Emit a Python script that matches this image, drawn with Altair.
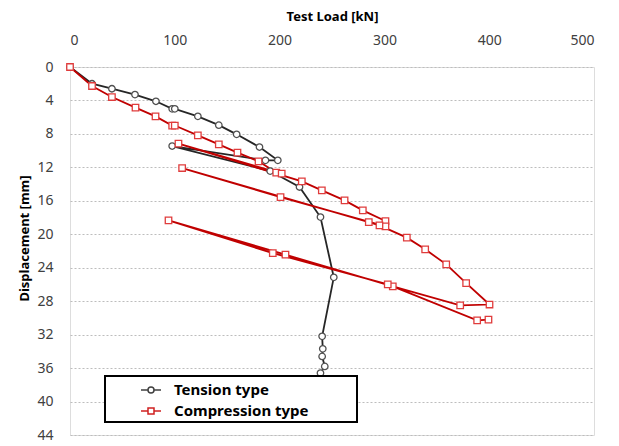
import altair as alt
import pandas as pd

series_names = ["Tension type", "Compression type"]

tension_load = [0, 21, 40, 62, 82, 97.5, 100, 122, 142, 159, 180.8, 198.3, 186.5, 97.5, 191, 219, 239, 251.7,
                240.6, 241.2, 240.6, 243.1, 239]
tension_disp = [0, 2.0, 2.6, 3.3, 4.1, 5.0, 5.0, 5.9, 6.95, 8.05, 9.57, 11.16, 11.16, 9.45, 12.44, 14.35, 17.94, 25.15,
                32.2, 33.7, 34.6, 35.8, 36.6]

compression_load = [0, 21, 40, 62.5, 81.6, 97.5, 100, 122, 142, 159.8, 179.9, 196.8, 202, 103.5, 221.2, 240.3,
                    262, 279.4, 301, 301, 200.9, 107, 285.1, 295.3, 321.4, 338.9, 359, 378, 400.3, 372.3, 308,
                    205.6, 94, 193.5, 303.2, 388.5, 399.3]
compression_disp = [0, 2.27, 3.59, 4.86, 5.9, 7.0, 7.0, 8.17, 9.25, 10.24, 11.28, 12.63, 12.75, 9.16, 13.67, 14.75,
                    15.95, 17.14, 18.42, 19.05, 15.55, 12.08, 18.54, 18.94, 20.4, 21.8, 23.6, 25.84, 28.4, 28.5, 26.24,
                    22.44, 18.34, 22.25, 26.0, 30.3, 30.2]

x_ticks = [0, 100, 200, 300, 400, 500]
y_ticks = [0, 4, 8, 12, 16, 20, 24, 28, 32, 36, 40, 44]

rows = []
for i, (l, d) in enumerate(zip(tension_load, tension_disp)):
    rows.append({"series": "Tension type", "load": l, "disp": d, "order": i})
for i, (l, d) in enumerate(zip(compression_load, compression_disp)):
    rows.append({"series": "Compression type", "load": l, "disp": d, "order": i})
df = pd.DataFrame(rows)

FONT = "Noto Sans"

x_enc = alt.X("load:Q", scale=alt.Scale(domain=[0, 500], nice=False),
              axis=alt.Axis(orient="top", values=x_ticks, title="Test Load [kN]", grid=False,
                            ticks=False, tickSize=0, domain=False, labelPadding=20,
                            labelFont=FONT, labelFontSize=14, labelColor="#404040",
                            titleFont=FONT, titleFontSize=13, titleFontWeight="bold", titleColor="#000000",
                            titleY=-51, titleBaseline="middle"))
y_enc = alt.Y("disp:Q", scale=alt.Scale(domain=[0, 44], reverse=True, nice=False),
              axis=alt.Axis(values=y_ticks, title="Displacement [mm]", grid=True, gridColor="#bdbdbd",
                            gridDash=[2, 2], gridWidth=1, ticks=False, tickSize=0, domain=False,
                            labelPadding=17, labelFont=FONT, labelFontSize=14, labelColor="#404040",
                            titleFont=FONT, titleFontSize=13, titleFontWeight="bold", titleColor="#000000",
                            titleX=-46, titleY=171, titleAngle=270, titleBaseline="middle",
                            titleAlign="center"))

base = alt.Chart(df)

lines = base.mark_line(strokeWidth=1.8).encode(
    x=x_enc, y=y_enc,
    color=alt.Color("series:N", scale=alt.Scale(domain=series_names, range=["#262626", "#c00000"]), legend=None),
    order="order:Q",
)

points = base.mark_point(filled=True, fill="white", size=42, strokeWidth=1.3, opacity=1).encode(
    x=x_enc, y=y_enc,
    shape=alt.Shape("series:N", scale=alt.Scale(domain=series_names, range=["circle", "square"]), legend=None),
    stroke=alt.Stroke("series:N", scale=alt.Scale(domain=series_names, range=["#505050", "#e03c3c"]), legend=None),
)

frame = alt.Chart(pd.DataFrame({"a": [0]})).mark_rect(fill="white", stroke="black", strokeWidth=2).encode(
    x=alt.value(35), x2=alt.value(287), y=alt.value(309), y2=alt.value(355)
)

path_c = "M-1,0H-0.3M0.3,0H1M-0.3,0A0.3,0.3,0,1,0,0.3,0A0.3,0.3,0,1,0,-0.3,0Z"
path_s = "M-1,0H-0.3M0.3,0H1M-0.3,-0.3H0.3V0.3H-0.3Z"

leg = alt.Legend(orient="none", legendX=70, legendY=312, title=None, padding=0,
                 labelFont=FONT, labelFontSize=15, labelFontWeight="bold", labelColor="#000000",
                 symbolSize=400, symbolStrokeWidth=1.5, symbolFillColor="white", symbolOpacity=1,
                 labelOffset=12, rowPadding=2, labelLimit=300)

legend_layer = base.transform_filter("false").mark_point(filled=True, fill="white", opacity=1).encode(
    x=x_enc, y=y_enc,
    shape=alt.Shape("series:N", scale=alt.Scale(domain=series_names, range=[path_c, path_s]), legend=leg),
    stroke=alt.Stroke("series:N", scale=alt.Scale(domain=series_names, range=["#404040", "#d02020"]), legend=leg),
)

chart = alt.layer(lines, points, frame, legend_layer).resolve_scale(
    shape="independent", stroke="independent"
).properties(
    width=524, height=368,
    autosize=alt.AutoSizeParams(type="none"),
    padding={"left": 62, "top": 59, "right": 17, "bottom": 12},
).configure_view(stroke="#a6a6a6", strokeWidth=1.2).configure(background="white")

chart.save("out.html", embed_options={"renderer": "svg", "actions": False})
